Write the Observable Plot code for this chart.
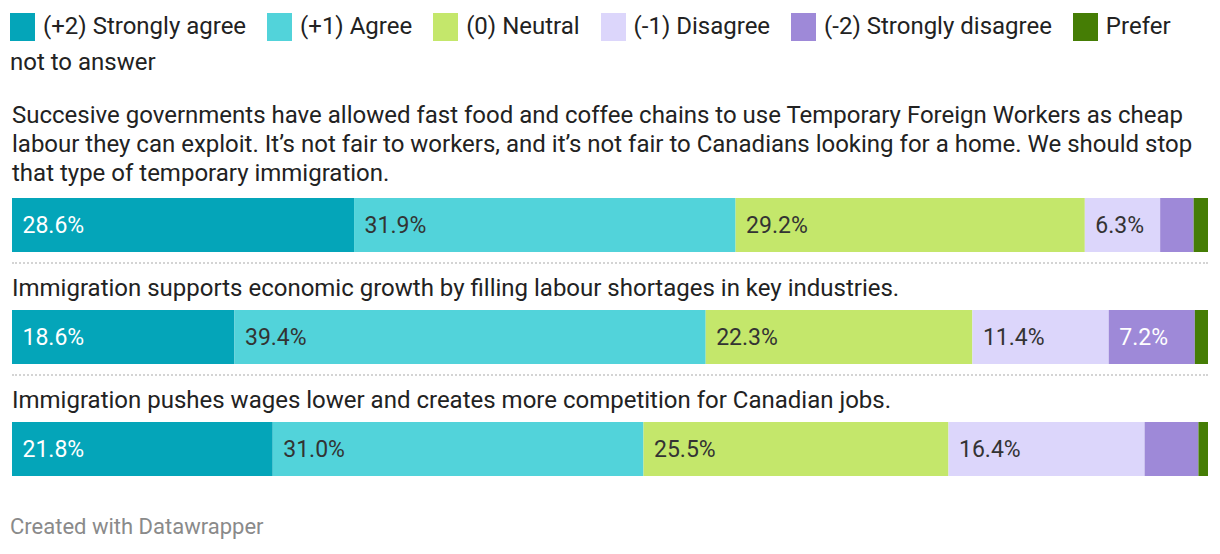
<!DOCTYPE html>
<html>
<head>
<meta charset="utf-8">
<script src="https://cdn.jsdelivr.net/npm/d3@7"></script>
<script src="https://cdn.jsdelivr.net/npm/@observablehq/plot@0.6"></script>
<style>
  html, body { margin: 0; padding: 0; background: #fff; }
  body { width: 1220px; height: 554px; position: relative; overflow: hidden; font-family: Roboto, "Noto Sans", sans-serif; color: #222; }
  #legend { position: absolute; left: 10px; top: 8px; width: 1185px; font-size: 24px; line-height: 36px; color: #222; }
  .item { white-space: nowrap; margin-right: 15px; }
  .item.last { white-space: normal; margin-right: 0; }
  .item::before { content: ""; display: inline-block; width: 25px; height: 28px; vertical-align: -7px; margin-right: 8px; background: var(--sw); }
  .q { position: absolute; left: 12px; width: 1200px; font-size: 24px; line-height: 29px; color: #222; }
  .bar { position: absolute; left: 0; }
  .sep { position: absolute; left: 12px; width: 1196px; height: 0; border-top: 2px dotted #d4d4d4; }
  #foot { position: absolute; left: 10px; top: 514px; font-size: 22px; color: #8a8a8a; }
</style>
</head>
<body>
<div id="legend"></div>
<div id="chart"></div>
<div id="foot">Created with Datawrapper</div>
<script>
const categories = ["(+2) Strongly agree", "(+1) Agree", "(0) Neutral", "(-1) Disagree", "(-2) Strongly disagree", "Prefer not to answer"];
const colors = ["#04a5b9", "#52d3da", "#c4e76b", "#dcd6fb", "#9e89d8", "#457d05"];
const labelColors = ["#ffffff", "#333333", "#333333", "#333333", "#ffffff", "#ffffff"];

const questions = [
  "Succesive governments have allowed fast food and coffee chains to use Temporary Foreign Workers as cheap labour they can exploit. It’s not fair to workers, and it’s not fair to Canadians looking for a home. We should stop that type of temporary immigration.",
  "Immigration supports economic growth by filling labour shortages in key industries.",
  "Immigration pushes wages lower and creates more competition for Canadian jobs."
];
const valuesQ1 = [28.6, 31.9, 29.2, 6.3, 2.8, 1.2];
const valuesQ2 = [18.6, 39.4, 22.3, 11.4, 7.2, 1.1];
const valuesQ3 = [21.8, 31.0, 25.5, 16.4, 4.5, 0.8];
const allValues = [valuesQ1, valuesQ2, valuesQ3];

// legend
const legend = document.getElementById("legend");
categories.forEach((c, i) => {
  const span = document.createElement("span");
  span.className = "item" + (i === categories.length - 1 ? " last" : "");
  span.style.setProperty("--sw", colors[i]);
  span.textContent = c;
  legend.appendChild(span);
  legend.appendChild(document.createTextNode(" "));
});

const qTops = [101, 273.5, 385.5];
const barTops = [198, 310, 422];
const sepTops = [262, 374];

const chart = document.getElementById("chart");
questions.forEach((q, qi) => {
  const qd = document.createElement("div");
  qd.className = "q";
  qd.style.top = qTops[qi] + "px";
  qd.textContent = q;
  chart.appendChild(qd);

  const rows = categories.map((c, i) => ({category: c, value: allValues[qi][i], idx: i}));
  const plot = Plot.plot({
    width: 1220,
    height: 54,
    marginLeft: 12,
    marginRight: 12,
    marginTop: 0,
    marginBottom: 0,
    x: {domain: [0, 100], axis: null},
    color: {domain: categories, range: colors},
    style: {fontFamily: "Roboto, sans-serif", overflow: "visible"},
    marks: [
      Plot.barX(rows, Plot.stackX({x: "value", fill: "category", order: null})),
      Plot.text(rows, Plot.stackX1({
        x: "value",
        z: "category",
        order: null,
        text: d => d.value >= 5 ? d.value.toFixed(1) + "%" : null,
        fill: d => labelColors[d.idx],
        textAnchor: "start",
        dx: 10,
        fontSize: 23
      }))
    ]
  });
  const wrap = document.createElement("div");
  wrap.className = "bar";
  wrap.style.top = barTops[qi] + "px";
  wrap.appendChild(plot);
  chart.appendChild(wrap);

  if (qi < sepTops.length) {
    const s = document.createElement("div");
    s.className = "sep";
    s.style.top = sepTops[qi] + "px";
    chart.appendChild(s);
  }
});
</script>
</body>
</html>
